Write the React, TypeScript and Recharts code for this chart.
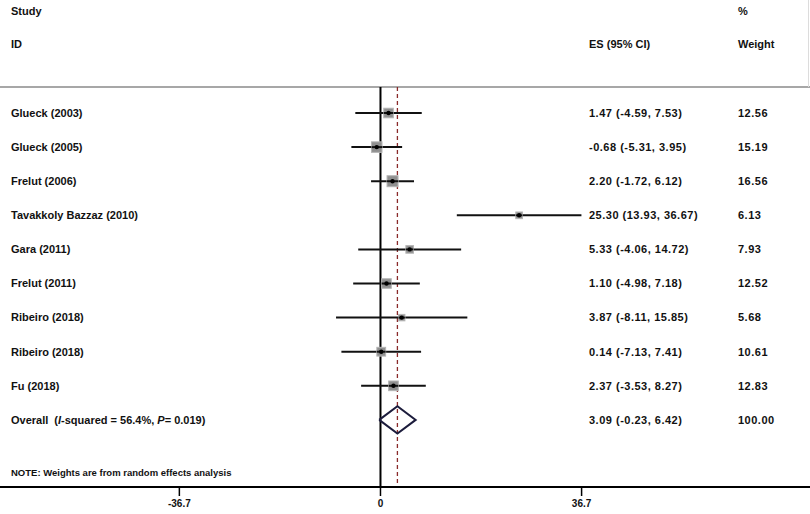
import React from 'react';
import { ComposedChart, Scatter, XAxis, YAxis, ReferenceLine, ErrorBar } from 'recharts';

const studies = [
  'Glueck (2003)',
  'Glueck (2005)',
  'Frelut (2006)',
  'Tavakkoly Bazzaz (2010)',
  'Gara (2011)',
  'Frelut (2011)',
  'Ribeiro (2018)',
  'Ribeiro (2018)',
  'Fu (2018)',
];
const es = [1.47, -0.68, 2.2, 25.3, 5.33, 1.1, 3.87, 0.14, 2.37];
const lower = [-4.59, -5.31, -1.72, 13.93, -4.06, -4.98, -8.11, -7.13, -3.53];
const upper = [7.53, 3.95, 6.12, 36.67, 14.72, 7.18, 15.85, 7.41, 8.27];
const weights = [12.56, 15.19, 16.56, 6.13, 7.93, 12.52, 5.68, 10.61, 12.83];

const overallEs = 3.09;
const overallLower = -0.23;
const overallUpper = 6.42;
const overallWeight = 100.0;
const iSquared = '56.4%';
const pValue = '0.019';

const xTicks = [-36.7, 0, 36.7];

const FONT = '"Liberation Sans", Arial, sans-serif';
const Y_DOMAIN: [number, number] = [-3.314, 10.967];
const HEADER_Y = -0.763;
const X_DOMAIN: [number, number] = [-69.43, 78.38];

const fmt = (v: number) => v.toFixed(2);

const studyRows = studies.map((name, i) => ({
  name,
  x: es[i],
  y: i,
  err: [es[i] - lower[i], upper[i] - es[i]],
  weight: weights[i],
  esText: `${fmt(es[i])} (${fmt(lower[i])}, ${fmt(upper[i])})`,
  wText: fmt(weights[i]),
  overall: false,
}));

const overallIndex = studies.length;
const labelRows = [
  ...studyRows,
  {
    name: 'Overall',
    x: overallEs,
    y: overallIndex,
    err: [0, 0],
    weight: overallWeight,
    esText: `${fmt(overallEs)} (${fmt(overallLower)}, ${fmt(overallUpper)})`,
    wText: fmt(overallWeight),
    overall: true,
  },
];

const diamondHalf = 0.4;
const diamondPts = [
  { x: overallLower, y: overallIndex },
  { x: overallEs, y: overallIndex - diamondHalf },
  { x: overallUpper, y: overallIndex },
  { x: overallEs, y: overallIndex + diamondHalf },
  { x: overallLower, y: overallIndex },
];

const textBold = { fontFamily: FONT, fontWeight: 700, fontSize: 11, fill: '#111' } as const;

const SquareShape = (props: any) => {
  const { cx, cy, payload } = props;
  if (cx == null || cy == null) return <g />;
  const s = 2.7 * Math.sqrt(payload.weight);
  return (
    <g>
      <rect x={cx - s / 2} y={cy - s / 2} width={s} height={s} fill="#8f8f8f" stroke="#b5b5b5" strokeWidth={1} />
      <line x1={cx - s / 2} y1={cy} x2={cx + s / 2} y2={cy} stroke="#111" strokeWidth={2} />
      <circle cx={cx} cy={cy} r={2.2} fill="#000" />
    </g>
  );
};

const LabelShape = (props: any) => {
  const { cy, payload } = props;
  if (cy == null) return <g />;
  return (
    <g>
      {payload.overall ? (
        <text x={11} y={cy} dy="0.35em" {...textBold}>
          <tspan>Overall</tspan>
          <tspan dx={6}>(</tspan>
          <tspan fontStyle="italic">I</tspan>
          <tspan>{`-squared = ${iSquared}, `}</tspan>
          <tspan fontStyle="italic">P</tspan>
          <tspan>{`= ${pValue})`}</tspan>
        </text>
      ) : (
        <text x={11} y={cy} dy="0.35em" {...textBold}>
          {payload.name}
        </text>
      )}
      <text x={589} y={cy} dy="0.35em" {...textBold} letterSpacing={0.5}>
        {payload.esText}
      </text>
      <text x={738} y={cy} dy="0.35em" {...textBold} letterSpacing={0.5}>
        {payload.wText}
      </text>
    </g>
  );
};

const HeaderLabel = () => (
  <g>
    <text x={11} y={11} dy="0.35em" {...textBold}>Study</text>
    <text x={11} y={44} dy="0.35em" {...textBold}>ID</text>
    <text x={589} y={44} dy="0.35em" {...textBold}>ES (95% CI)</text>
    <text x={738} y={11} dy="0.35em" {...textBold}>%</text>
    <text x={738} y={44} dy="0.35em" {...textBold}>Weight</text>
    <line x1={808.5} y1={0} x2={808.5} y2={87} stroke="#dcdcdc" strokeWidth={1} />
    <text x={11} y={473} dy="0.35em" fontFamily={FONT} fontWeight={700} fontSize={9.5} fill="#111">
      NOTE: Weights are from random effects analysis
    </text>
  </g>
);

const noShape = () => <g />;

export default function App() {
  return (
    <div style={{ position: 'absolute', left: 0, top: 0, width: 810, height: 514, background: '#fff' }}>
      <ComposedChart width={810} height={514} margin={{ top: 0, right: 0, bottom: 0, left: 0 }}>
        <XAxis
          type="number"
          dataKey="x"
          domain={X_DOMAIN}
          allowDataOverflow
          ticks={xTicks}
          interval={0}
          height={27}
          axisLine={{ stroke: '#000', strokeWidth: 2 }}
          tickLine={{ stroke: '#000', strokeWidth: 1.5 }}
          tickSize={9}
          tickMargin={4}
          tick={{ fontSize: 10, fontWeight: 700, fill: '#111', fontFamily: FONT }}
        />
        <YAxis type="number" dataKey="y" hide domain={Y_DOMAIN} reversed allowDataOverflow />
        <ReferenceLine y={HEADER_Y} stroke="#8a8a8a" strokeWidth={1.5} label={<HeaderLabel />} />
        <ReferenceLine
          segment={[
            { x: 0, y: HEADER_Y },
            { x: 0, y: Y_DOMAIN[1] },
          ]}
          stroke="#000"
          strokeWidth={2}
        />
        <ReferenceLine
          segment={[
            { x: overallEs, y: HEADER_Y },
            { x: overallEs, y: Y_DOMAIN[1] },
          ]}
          stroke="#8a2a2a"
          strokeWidth={1.3}
          strokeDasharray="4 3"
        />
        <Scatter data={studyRows} shape={<SquareShape />} isAnimationActive={false} legendType="none">
          <ErrorBar dataKey="err" direction="x" width={0} stroke="#111" strokeWidth={2} isAnimationActive={false} />
        </Scatter>
        <Scatter
          data={diamondPts}
          line={{ stroke: '#1c1c3c', strokeWidth: 2 }}
          shape={noShape}
          isAnimationActive={false}
          legendType="none"
        />
        <Scatter data={labelRows} shape={<LabelShape />} isAnimationActive={false} legendType="none" />
      </ComposedChart>
    </div>
  );
}
